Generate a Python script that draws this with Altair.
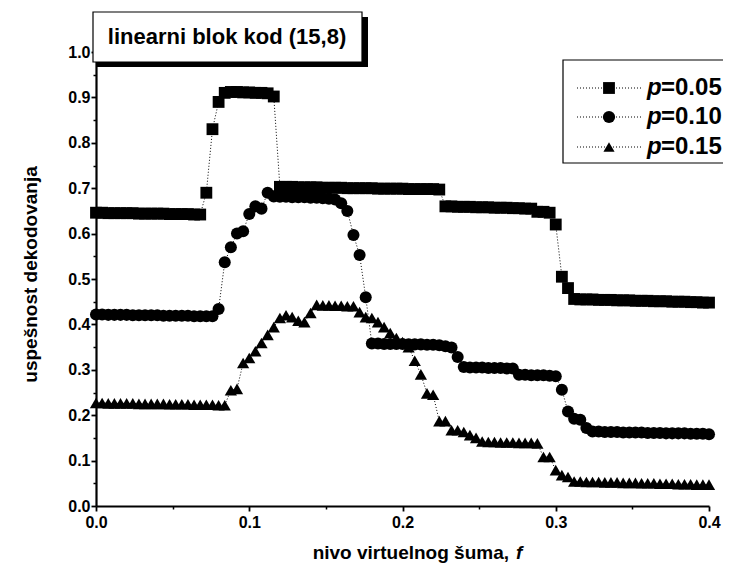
import altair as alt
import pandas as pd

# noise level f (x grid of the simulation)
f_values = [
    0.000, 0.004, 0.008, 0.012, 0.016, 0.020, 0.024, 0.028, 0.032, 0.036,
    0.040, 0.044, 0.048, 0.052, 0.056, 0.060, 0.064, 0.068, 0.072, 0.076,
    0.080, 0.084, 0.088, 0.092, 0.096, 0.100, 0.104, 0.108, 0.112, 0.116,
    0.120, 0.124, 0.128, 0.132, 0.136, 0.140, 0.144, 0.148, 0.152, 0.156,
    0.160, 0.164, 0.168, 0.172, 0.176, 0.180, 0.184, 0.188, 0.192, 0.196,
    0.200, 0.204, 0.208, 0.212, 0.216, 0.220, 0.224, 0.228, 0.232, 0.236,
    0.240, 0.244, 0.248, 0.252, 0.256, 0.260, 0.264, 0.268, 0.272, 0.276,
    0.280, 0.284, 0.288, 0.292, 0.296, 0.300, 0.304, 0.308, 0.312, 0.316,
    0.320, 0.324, 0.328, 0.332, 0.336, 0.340, 0.344, 0.348, 0.352, 0.356,
    0.360, 0.364, 0.368, 0.372, 0.376, 0.380, 0.384, 0.388, 0.392, 0.396,
    0.400,
]

p05 = [
    0.646, 0.646, 0.645, 0.645, 0.645, 0.645, 0.645, 0.644, 0.644, 0.644,
    0.644, 0.644, 0.643, 0.643, 0.643, 0.643, 0.642, 0.642, 0.690, 0.830,
    0.890, 0.910, 0.912, 0.912, 0.911, 0.911, 0.910, 0.910, 0.909, 0.902,
    0.703, 0.703, 0.703, 0.702, 0.702, 0.702, 0.702, 0.701, 0.701, 0.701,
    0.701, 0.700, 0.700, 0.700, 0.700, 0.700, 0.699, 0.699, 0.699, 0.699,
    0.699, 0.698, 0.698, 0.698, 0.698, 0.698, 0.697, 0.660, 0.660, 0.659,
    0.659, 0.659, 0.658, 0.658, 0.658, 0.657, 0.657, 0.657, 0.656, 0.656,
    0.655, 0.655, 0.648, 0.648, 0.646, 0.620, 0.505, 0.480, 0.456, 0.455,
    0.455, 0.455, 0.454, 0.454, 0.454, 0.453, 0.453, 0.453, 0.452, 0.452,
    0.452, 0.451, 0.451, 0.451, 0.450, 0.450, 0.450, 0.449, 0.449, 0.448,
    0.448,
]

p10 = [
    0.422, 0.422, 0.421, 0.421, 0.421, 0.421, 0.420, 0.420, 0.420, 0.420,
    0.420, 0.419, 0.419, 0.419, 0.419, 0.419, 0.418, 0.418, 0.418, 0.418,
    0.434, 0.537, 0.570, 0.600, 0.605, 0.643, 0.660, 0.655, 0.690, 0.682,
    0.681, 0.681, 0.680, 0.680, 0.680, 0.679, 0.679, 0.678, 0.677, 0.675,
    0.667, 0.650, 0.597, 0.553, 0.460, 0.358, 0.358, 0.357, 0.357, 0.357,
    0.357, 0.356, 0.356, 0.356, 0.355, 0.355, 0.354, 0.352, 0.349, 0.328,
    0.306, 0.305, 0.305, 0.305, 0.304, 0.304, 0.304, 0.303, 0.303, 0.289,
    0.289, 0.288, 0.288, 0.288, 0.287, 0.286, 0.256, 0.208, 0.192, 0.190,
    0.172, 0.164, 0.164, 0.163, 0.163, 0.163, 0.162, 0.162, 0.162, 0.162,
    0.161, 0.161, 0.161, 0.160, 0.160, 0.160, 0.160, 0.159, 0.159, 0.159,
    0.158,
]

p15 = [
    0.227, 0.227, 0.226, 0.226, 0.226, 0.226, 0.226, 0.225, 0.225, 0.225,
    0.225, 0.225, 0.224, 0.224, 0.224, 0.224, 0.223, 0.223, 0.223, 0.223,
    0.222, 0.222, 0.255, 0.258, 0.315, 0.326, 0.341, 0.359, 0.377, 0.394,
    0.414, 0.420, 0.416, 0.408, 0.405, 0.425, 0.443, 0.442, 0.442, 0.441,
    0.441, 0.440, 0.440, 0.427, 0.416, 0.414, 0.405, 0.394, 0.381, 0.370,
    0.361, 0.350, 0.320, 0.290, 0.248, 0.245, 0.187, 0.187, 0.167, 0.167,
    0.163, 0.156, 0.150, 0.142, 0.141, 0.141, 0.140, 0.140, 0.140, 0.139,
    0.139, 0.139, 0.138, 0.108, 0.108, 0.079, 0.068, 0.064, 0.054, 0.054,
    0.053, 0.053, 0.053, 0.052, 0.052, 0.052, 0.051, 0.051, 0.051, 0.050,
    0.050, 0.050, 0.049, 0.049, 0.049, 0.048, 0.048, 0.048, 0.047, 0.047,
    0.047,
]

series_names = ["p=0.05", "p=0.10", "p=0.15"]
series_labels = ["=0.05", "=0.10", "=0.15"]
series_shapes = ["square", "circle", "triangle-up"]
series_sizes = [140, 150, 125]
x_ticks = [0.0, 0.1, 0.2, 0.3, 0.4]
x_minor = [0.05, 0.15, 0.25, 0.35]
y_ticks = [0.0, 0.1, 0.2, 0.3, 0.4, 0.5, 0.6, 0.7, 0.8, 0.9, 1.0]
y_minor = [0.05, 0.15, 0.25, 0.35, 0.45, 0.55, 0.65, 0.75, 0.85, 0.95]
box_title = "linearni blok kod (15,8)"
y_title = "uspešnost dekodovanja"
x_title = "nivo virtuelnog šuma,"
x_title_var = "f"

rows = []
for name, vals in zip(series_names, [p05, p10, p15]):
    for f, v in zip(f_values, vals):
        rows.append({"f": f, "value": v, "series": name})
df = pd.DataFrame(rows)

FONT = "Liberation Sans"
W, H = 613, 454

xscale = alt.Scale(domain=[0, 0.4], nice=False, zero=False)
yscale = alt.Scale(domain=[0, 1.0], nice=False)
shape_scale = alt.Scale(domain=series_names, range=series_shapes)
size_scale = alt.Scale(domain=series_names, range=series_sizes)

x_axis = alt.Axis(values=x_ticks, format=".1f", title=None, grid=False,
                  labelFont=FONT, labelFontSize=16, labelFontWeight="bold",
                  labelColor="black",
                  tickSize=5, tickWidth=1.8, tickColor="black",
                  domainWidth=2.2, domainColor="black", labelPadding=3,
                  labelFlush=False, orient="bottom")
y_axis = alt.Axis(values=y_ticks, format=".1f", title=y_title, grid=False,
                  labelFont=FONT, labelFontSize=16, labelFontWeight="bold",
                  labelColor="black",
                  tickSize=5, tickWidth=1.8, tickColor="black",
                  domainWidth=2.2, domainColor="black", labelPadding=1,
                  labelFlush=False, orient="left",
                  titleFont=FONT, titleFontSize=19, titleFontWeight="bold",
                  titleColor="black", titleX=-66, titleY=222, titleAngle=-90,
                  titleAlign="center", titleBaseline="middle")
x_minor_axis = alt.Axis(values=x_minor, labels=False, title=None, grid=False,
                        domain=False, tickSize=3, tickWidth=1.5,
                        tickColor="black", orient="bottom")
y_minor_axis = alt.Axis(values=y_minor, labels=False, title=None, grid=False,
                        domain=False, tickSize=3, tickWidth=1.5,
                        tickColor="black", orient="left")

base = alt.Chart(df)

lines = base.mark_line(color="black", strokeWidth=1, strokeDash=[1, 2]).encode(
    x=alt.X("f:Q", scale=xscale, axis=x_axis),
    y=alt.Y("value:Q", scale=yscale, axis=y_axis),
    detail="series:N",
)
points = base.mark_point(filled=True, color="black", opacity=1).encode(
    x=alt.X("f:Q", scale=xscale, axis=None),
    y=alt.Y("value:Q", scale=yscale, axis=None),
    shape=alt.Shape("series:N", scale=shape_scale, legend=None),
    size=alt.Size("series:N", scale=size_scale, legend=None),
)
minor = base.mark_point(opacity=0).encode(
    x=alt.X("f:Q", scale=xscale, axis=x_minor_axis),
    y=alt.Y("value:Q", scale=yscale, axis=y_minor_axis),
)

one = pd.DataFrame({"a": [0]})

# title box with shadow
shadow = alt.Chart(one).mark_rect(color="black").encode(
    x=alt.value(0), x2=alt.value(272), y=alt.value(-35), y2=alt.value(15))
tbox = alt.Chart(one).mark_rect(fill="white", stroke="black", strokeWidth=1.2).encode(
    x=alt.value(-3), x2=alt.value(266), y=alt.value(-40), y2=alt.value(10))
ttext = alt.Chart(one).mark_text(font=FONT, fontSize=22, fontWeight="bold",
                                 color="black",
                                 align="center", baseline="middle").encode(
    x=alt.value(131), y=alt.value(-15), text=alt.value(box_title))

# legend
lbox = alt.Chart(one).mark_rect(fill="white", stroke="black", strokeWidth=1.2).encode(
    x=alt.value(467), x2=alt.value(660), y=alt.value(8), y2=alt.value(111))
legend_layers = [lbox]
row_y = [36, 65, 95]
for name, lab, shp, sz, yy in zip(series_names, series_labels, series_shapes,
                                  series_sizes, row_y):
    legend_layers.append(alt.Chart(one).mark_rule(color="black", strokeWidth=1,
                                                  strokeDash=[1, 2]).encode(
        x=alt.value(481), x2=alt.value(546), y=alt.value(yy)))
    legend_layers.append(alt.Chart(one).mark_point(shape=shp, filled=True,
                                                   color="black", size=sz,
                                                   opacity=1).encode(
        x=alt.value(513), y=alt.value(yy)))
    legend_layers.append(alt.Chart(one).mark_text(font=FONT, fontSize=24,
                                                  fontStyle="italic",
                                                  fontWeight="bold",
                                                  color="black", align="left",
                                                  baseline="middle").encode(
        x=alt.value(551), y=alt.value(yy), text=alt.value("p")))
    legend_layers.append(alt.Chart(one).mark_text(font=FONT, fontSize=24,
                                                  fontWeight="bold",
                                                  color="black", align="left",
                                                  baseline="middle").encode(
        x=alt.value(565), y=alt.value(yy), text=alt.value(lab)))

# x-axis title with italic f
xt1 = alt.Chart(one).mark_text(font=FONT, fontSize=19, fontWeight="bold",
                               color="black",
                               align="right", baseline="middle").encode(
    x=alt.value(413), y=alt.value(501), text=alt.value(x_title))
xt2 = alt.Chart(one).mark_text(font=FONT, fontSize=19, fontStyle="italic",
                               fontWeight="bold",
                               color="black", align="left",
                               baseline="middle").encode(
    x=alt.value(420), y=alt.value(501), text=alt.value(x_title_var))

chart = alt.layer(
    lines, points, minor, shadow, tbox, ttext, *legend_layers, xt1, xt2
).resolve_axis(x="independent", y="independent").properties(
    width=W, height=H,
    autosize=alt.AutoSizeParams(type="none"),
    padding={"left": 88, "top": 44, "right": 14, "bottom": 62},
    background="white",
).configure_view(stroke=None)

chart.save("out.html", embed_options={"renderer": "svg", "actions": False})
